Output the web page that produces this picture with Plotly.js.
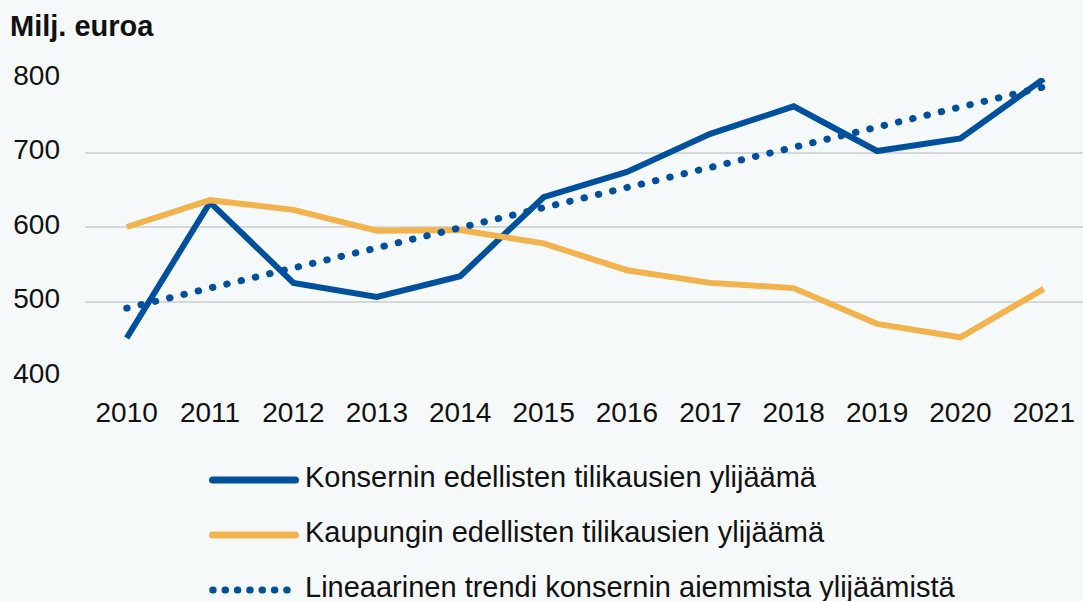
<!DOCTYPE html>
<html>
<head>
<meta charset="utf-8">
<script src="https://cdn.plot.ly/plotly-3.0.1.min.js"></script>
<style>
html, body { margin:0; padding:0; background:#f6f9f9; }
#chart { width:1083px; height:601px; }
.scatterlayer .trace:last-child .js-line { stroke-linecap: round !important; }
.shapelayer path { stroke-linecap: round !important; }
</style>
</head>
<body>
<div id="chart"></div>
<script>
const years = ['2010','2011','2012','2013','2014','2015','2016','2017','2018','2019','2020','2021'];
const konserni = [451, 633, 525, 506, 534, 640, 674, 725, 762, 702, 719, 799];
const kaupunki = [600, 636, 623, 595, 596, 578, 542, 525, 518, 470, 452, 517];
const trendi = [491, 518, 545, 572, 599, 626, 653, 680, 707, 734, 761, 788];
const seriesNames = [
  'Konsernin edellisten tilikausien ylijäämä',
  'Kaupungin edellisten tilikausien ylijäämä',
  'Lineaarinen trendi konsernin aiemmista ylijäämistä'
];
const yTicks = [400, 500, 600, 700, 800];

const BLUE = '#00509e';
const ORANGE = '#f2b34c';

const L = 85, T = 78, PW = 998, PH = 298;
const px2x = p => (p - L) / PW;
const px2y = p => (T + PH - p) / PH;

const traces = [
  {x: years, y: konserni, name: seriesNames[0], type: 'scatter', mode: 'lines',
   line: {color: BLUE, width: 6}, cliponaxis: false, hoverinfo: 'x+y'},
  {x: years, y: kaupunki, name: seriesNames[1], type: 'scatter', mode: 'lines',
   line: {color: ORANGE, width: 6}, cliponaxis: false, hoverinfo: 'x+y'},
  {x: years, y: trendi, name: seriesNames[2], type: 'scatter', mode: 'lines',
   line: {color: BLUE, width: 7, dash: '0.5px,14.2px'}, cliponaxis: false, hoverinfo: 'x+y'}
];

const lineRows = [480, 535, 590];
const textRows = [477, 532, 587];
const shapes = [
  {type:'line', xref:'paper', yref:'paper', x0:px2x(212.5), x1:px2x(295.5), y0:px2y(lineRows[0]), y1:px2y(lineRows[0]), line:{color:BLUE, width:7}},
  {type:'line', xref:'paper', yref:'paper', x0:px2x(212.5), x1:px2x(295.5), y0:px2y(lineRows[1]), y1:px2y(lineRows[1]), line:{color:ORANGE, width:7}},
  {type:'line', xref:'paper', yref:'paper', x0:px2x(212.7), x1:px2x(287.2), y0:px2y(lineRows[2]), y1:px2y(lineRows[2]), line:{color:BLUE, width:7, dash:'0.5px,11.83px'}}
];
const annotations = seriesNames.map((n, i) => ({
  text: n, xref:'paper', yref:'paper', x: px2x(303), y: px2y(textRows[i]),
  xanchor:'left', yanchor:'middle', showarrow:false,
  font:{family:'"Liberation Sans", Arial, sans-serif', size:29, color:'#111111'}
}));

const layout = {
  width: 1083, height: 601,
  paper_bgcolor: '#f6f9f9', plot_bgcolor: '#f6f9f9',
  margin: {l: L, r: 0, t: T, b: 601 - T - PH},
  showlegend: false,
  font: {family: '"Liberation Sans", Arial, sans-serif', size: 28, color: '#111111'},
  title: {text: '<b>Milj. euroa</b>', xref:'container', yref:'container', x: 10/1083, xanchor:'left',
          y: 1 - 26/601, yanchor:'middle', font:{family:'"Liberation Sans", Arial, sans-serif', size:29, color:'#111111'}},
  xaxis: {type:'category', range:[-0.5, 11.47], showgrid:false, zeroline:false, showline:false,
          ticks:'', ticklabelstandoff: 17, tickfont:{size:28}, fixedrange:true},
  yaxis: {range:[400, 800], tickvals: yTicks, ticktext: yTicks.map(String), showgrid:true,
          gridcolor:'#d5d8d8', gridwidth:2, zeroline:false, showline:false, ticks:'',
          ticklabelstandoff: 24, ticklabelshift: -3, tickfont:{size:28}, fixedrange:true},
  shapes: shapes,
  annotations: annotations
};

Plotly.newPlot('chart', traces, layout, {displayModeBar:false, staticPlot:true});
</script>
</body>
</html>
